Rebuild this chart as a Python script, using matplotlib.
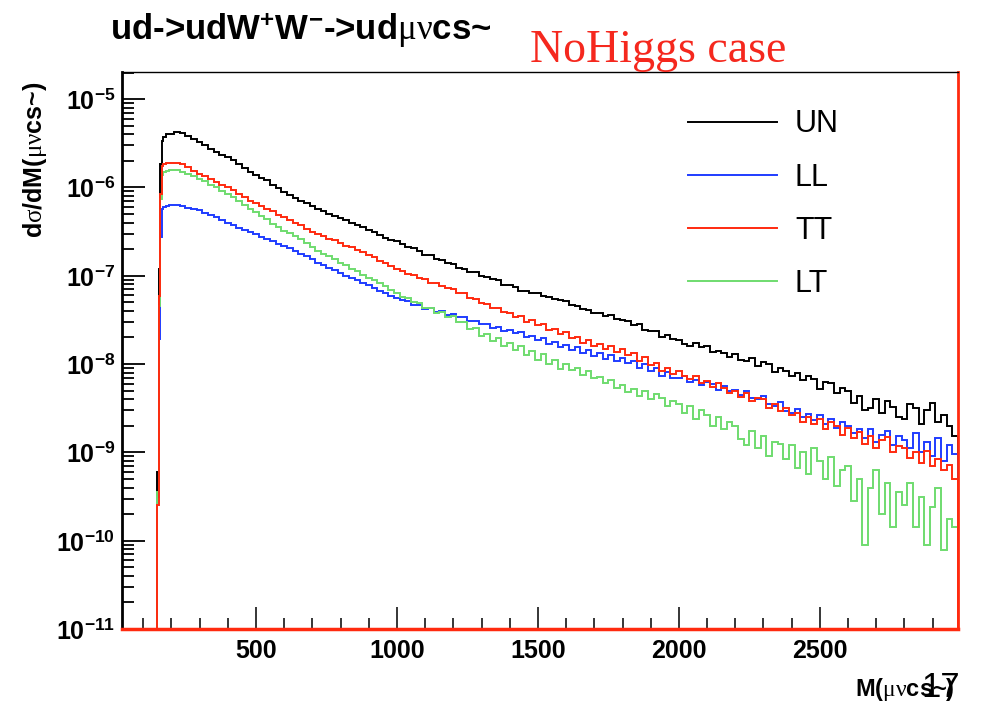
import numpy as np
import matplotlib

matplotlib.use("Agg")
import matplotlib.pyplot as plt
from matplotlib.ticker import FixedLocator, MultipleLocator, NullFormatter

plt.rcParams["font.family"] = ["Liberation Sans", "DejaVu Sans"]
plt.rcParams["mathtext.fontset"] = "custom"
plt.rcParams["mathtext.rm"] = "Liberation Sans:bold"
plt.rcParams["mathtext.bf"] = "Liberation Sans:bold"
plt.rcParams["mathtext.it"] = "Liberation Serif"
plt.rcParams["mathtext.sf"] = "Liberation Sans"

# histogram binning in M(mu nu c s~), GeV
first_edge = 25
threshold_edges = [150, 155, 160, 165, 170, 180, 190]
bin_width = 20
last_edge = 2990

# log10(dsigma/dM) per bin
# (6 threshold bins, then 20 GeV bins centred at 200, 220, ..., 2980)
un_log = [
    -9.22, -6.92, -5.74, -5.47, -5.43, -5.40,
    -5.39, -5.37, -5.38, -5.42, -5.45, -5.48, -5.52, -5.56, -5.60, -5.63,
    -5.66, -5.69, -5.74, -5.78, -5.83, -5.86, -5.89, -5.92, -5.97, -6.01,
    -6.05, -6.08, -6.12, -6.15, -6.18, -6.21, -6.24, -6.27, -6.30, -6.32,
    -6.35, -6.37, -6.40, -6.42, -6.45, -6.48, -6.51, -6.54, -6.57, -6.59,
    -6.61, -6.64, -6.67, -6.69, -6.72, -6.76, -6.77, -6.81, -6.82, -6.86,
    -6.87, -6.91, -6.92, -6.96, -6.96, -7.00, -7.01, -7.04, -7.05, -7.10,
    -7.11, -7.13, -7.17, -7.17, -7.20, -7.20, -7.23, -7.24, -7.26, -7.27,
    -7.29, -7.33, -7.34, -7.38, -7.39, -7.42, -7.42, -7.46, -7.45, -7.49,
    -7.50, -7.51, -7.56, -7.55, -7.61, -7.62, -7.63, -7.69, -7.67, -7.72,
    -7.73, -7.77, -7.79, -7.76, -7.81, -7.80, -7.86, -7.85, -7.87, -7.92,
    -7.89, -7.95, -7.97, -7.93, -8.02, -7.98, -8.00, -8.09, -8.05, -8.08,
    -8.14, -8.10, -8.18, -8.13, -8.17, -8.28, -8.20, -8.22, -8.33, -8.27,
    -8.30, -8.44, -8.36, -8.52, -8.50, -8.40, -8.55, -8.42, -8.49, -8.60,
    -8.62, -8.45, -8.50, -8.68, -8.52, -8.44, -8.66, -8.58, -8.70, -8.82,
]
ll_log = [
    -9.50, -7.72, -6.56, -6.24, -6.22, -6.21,
    -6.20, -6.20, -6.21, -6.23, -6.24, -6.26, -6.29, -6.31, -6.34, -6.37,
    -6.40, -6.43, -6.46, -6.48, -6.51, -6.53, -6.56, -6.58, -6.61, -6.64,
    -6.66, -6.69, -6.72, -6.75, -6.78, -6.81, -6.85, -6.88, -6.91, -6.94,
    -6.97, -7.00, -7.02, -7.05, -7.08, -7.11, -7.14, -7.17, -7.20, -7.23,
    -7.25, -7.28, -7.29, -7.33, -7.33, -7.38, -7.37, -7.41, -7.40, -7.44,
    -7.43, -7.47, -7.47, -7.51, -7.51, -7.55, -7.55, -7.59, -7.58, -7.62,
    -7.61, -7.65, -7.64, -7.69, -7.68, -7.73, -7.71, -7.77, -7.75, -7.81,
    -7.78, -7.84, -7.81, -7.88, -7.84, -7.91, -7.87, -7.94, -7.90, -7.97,
    -7.93, -7.99, -7.96, -8.04, -8.00, -8.08, -8.04, -8.13, -8.09, -8.16,
    -8.16, -8.14, -8.20, -8.18, -8.24, -8.20, -8.23, -8.29, -8.25, -8.31,
    -8.29, -8.35, -8.31, -8.38, -8.40, -8.36, -8.45, -8.47, -8.43, -8.53,
    -8.55, -8.51, -8.60, -8.57, -8.63, -8.58, -8.68, -8.62, -8.72, -8.66,
    -8.70, -8.78, -8.73, -8.84, -8.74, -8.88, -8.80, -8.76, -8.92, -8.82,
    -8.86, -8.95, -8.78, -9.00, -8.88, -9.04, -8.84, -9.10, -8.92, -9.02,
]
tt_log = [
    -9.60, -7.23, -6.07, -5.76, -5.73, -5.72,
    -5.72, -5.72, -5.74, -5.77, -5.81, -5.85, -5.87, -5.91, -5.94, -5.97,
    -6.00, -6.03, -6.07, -6.11, -6.15, -6.18, -6.21, -6.24, -6.27, -6.31,
    -6.34, -6.37, -6.40, -6.43, -6.47, -6.50, -6.53, -6.55, -6.58, -6.60,
    -6.63, -6.66, -6.68, -6.71, -6.73, -6.76, -6.79, -6.83, -6.86, -6.89,
    -6.92, -6.95, -6.98, -6.99, -7.03, -7.04, -7.08, -7.08, -7.12, -7.14,
    -7.15, -7.19, -7.20, -7.25, -7.26, -7.31, -7.32, -7.37, -7.36, -7.41,
    -7.42, -7.47, -7.46, -7.52, -7.50, -7.56, -7.55, -7.61, -7.60, -7.66,
    -7.64, -7.70, -7.69, -7.76, -7.73, -7.80, -7.77, -7.83, -7.79, -7.86,
    -7.83, -7.90, -7.87, -7.96, -7.92, -8.01, -7.99, -8.08, -8.04, -8.11,
    -8.08, -8.13, -8.17, -8.13, -8.21, -8.19, -8.26, -8.22, -8.27, -8.33,
    -8.30, -8.37, -8.33, -8.42, -8.38, -8.40, -8.50, -8.45, -8.53, -8.50,
    -8.58, -8.55, -8.66, -8.60, -8.68, -8.62, -8.73, -8.66, -8.70, -8.80,
    -8.72, -8.84, -8.77, -8.90, -8.82, -8.95, -8.86, -8.83, -9.00, -8.93,
    -8.95, -9.06, -9.00, -9.12, -8.98, -9.15, -9.08, -9.20, -9.14, -9.30,
]
lt_log = [
    -9.45, -7.34, -6.13, -5.86, -5.82, -5.81,
    -5.80, -5.80, -5.82, -5.85, -5.87, -5.90, -5.93, -5.97, -6.00, -6.04,
    -6.07, -6.11, -6.15, -6.20, -6.24, -6.28, -6.32, -6.36, -6.41, -6.45,
    -6.49, -6.52, -6.55, -6.58, -6.63, -6.68, -6.72, -6.75, -6.78, -6.81,
    -6.85, -6.88, -6.92, -6.95, -6.99, -7.02, -7.05, -7.08, -7.12, -7.16,
    -7.19, -7.24, -7.25, -7.30, -7.31, -7.37, -7.36, -7.42, -7.41, -7.47,
    -7.46, -7.52, -7.52, -7.60, -7.59, -7.68, -7.66, -7.74, -7.71, -7.79,
    -7.76, -7.84, -7.80, -7.90, -7.85, -7.95, -7.89, -8.00, -7.95, -8.06,
    -8.00, -8.07, -8.05, -8.12, -8.08, -8.16, -8.15, -8.22, -8.18, -8.27,
    -8.24, -8.32, -8.28, -8.36, -8.30, -8.40, -8.34, -8.38, -8.47, -8.42,
    -8.45, -8.55, -8.48, -8.62, -8.52, -8.58, -8.70, -8.60, -8.74, -8.66,
    -8.70, -8.85, -8.92, -8.76, -8.95, -8.82, -9.04, -8.88, -8.90, -9.08,
    -8.92, -9.18, -9.00, -9.25, -8.95, -9.10, -9.30, -9.05, -9.38, -9.20,
    -9.15, -9.55, -9.30, -10.05, -9.40, -9.20, -9.70, -9.35, -9.85, -9.45,
    -9.60, -9.35, -9.85, -9.50, -10.05, -9.62, -9.40, -10.10, -9.75, -9.85,
]

series_labels = ["UN", "LL", "TT", "LT"]
series_colors = ["#000000", "#1f3cff", "#ff2a0f", "#6fdc6f"]

ymin, ymax = 1e-11, 2.03e-5
xmin, xmax = 25, 2990

edges = np.concatenate(
    [[first_edge], threshold_edges,
     np.arange(threshold_edges[-1] + bin_width, last_edge + 1, bin_width)]
)

fig = plt.figure(figsize=(9.81, 7.05), dpi=100)
ax = fig.add_axes([0.1244, 0.1078, 0.8522, 0.7901])
ax.set_yscale("log")

handles = {}
# drawing order as in the original: red ends up on top
for name in ["UN", "LL", "LT", "TT"]:
    i = series_labels.index(name)
    logs = [un_log, ll_log, tt_log, lt_log][i]
    vals = np.concatenate([[0.0], 10.0 ** np.array(logs)])
    vals = np.where(vals > 0, vals, ymin)  # empty bins sit on the floor, ROOT style
    h = ax.stairs(vals, edges, baseline=ymin, color=series_colors[i], lw=1.4,
                  label=name, clip_on=False)
    handles[name] = h

ax.set_xlim(xmin, xmax)
ax.set_ylim(ymin, ymax)

# ROOT style ticks: inside, only bottom/left
ax.xaxis.set_major_locator(FixedLocator([500, 1000, 1500, 2000, 2500]))
ax.xaxis.set_minor_locator(MultipleLocator(100))
decades = [1e-11, 1e-10, 1e-9, 1e-8, 1e-7, 1e-6, 1e-5]
ax.yaxis.set_major_locator(FixedLocator(decades))
ax.set_yticklabels([r"$10^{%d}$" % int(np.log10(d)) for d in decades])
minor = [m * d for d in decades for m in range(2, 10)]
ax.yaxis.set_minor_locator(FixedLocator([v for v in minor if v < ymax]))
ax.yaxis.set_minor_formatter(NullFormatter())

ax.tick_params(axis="x", which="major", direction="in", length=16, width=1.1,
               labelsize=18, pad=7, top=False)
ax.tick_params(axis="x", which="minor", direction="in", length=8, width=1.1,
               top=False)
ax.tick_params(axis="y", which="major", direction="in", length=16.5, width=1.3,
               labelsize=18, pad=5, right=False)
ax.tick_params(axis="y", which="minor", direction="in", length=8.5, width=1.3,
               right=False)
for lab in ax.get_xticklabels():
    lab.set_fontweight("bold")

ax.spines["left"].set_linewidth(2.0)
ax.spines["top"].set_linewidth(1.0)
ax.spines["right"].set_color("#ff2a0f")
ax.spines["right"].set_linewidth(2.0)
ax.spines["bottom"].set_color("#ff2a0f")
ax.spines["bottom"].set_linewidth(2.5)

leg = ax.legend(
    [handles[n] for n in series_labels], series_labels,
    loc="upper left", bbox_to_anchor=(0.677, 0.933), frameon=False,
    fontsize=22, handlelength=2.9, handletextpad=0.6, labelspacing=0.76,
    borderpad=0, borderaxespad=0,
)

fig.text(110 / 981, 1 - 40 / 705, r"ud->udW$^{+}$W$^{-}$->ud$\mu\nu$cs~",
         fontsize=25, fontweight="bold", ha="left", va="baseline")
fig.text(530 / 981, 1 - 62 / 705, "NoHiggs case", family="Liberation Serif",
         fontsize=33, color="#f5281e", ha="left", va="baseline")
fig.text(35 / 981, 1 - 160 / 705, r"d$\sigma$/dM($\mu\nu$cs~)", rotation=90,
         fontsize=18, fontweight="bold", ha="center", va="center")
fig.text(955 / 981, 1 - 696 / 705, r"M($\mu\nu$cs~)", fontsize=17,
         fontweight="bold", ha="right", va="baseline")
fig.text(960 / 981, 1 - 697 / 705, "17", fontsize=25, ha="right", va="baseline")

fig.savefig("out.png", dpi=100)
